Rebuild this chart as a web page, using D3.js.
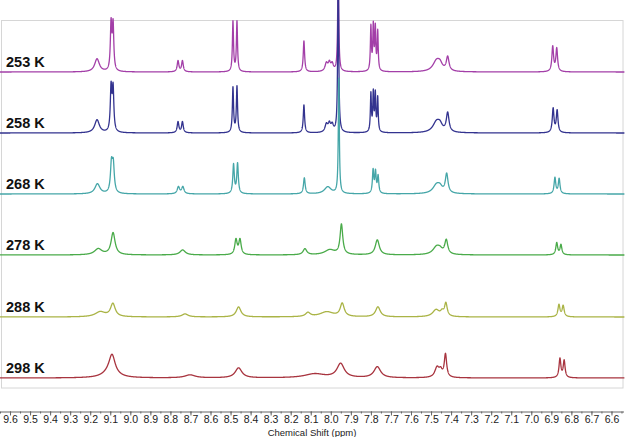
<!DOCTYPE html>
<html>
<head>
<meta charset="utf-8">
<script src="https://cdn.jsdelivr.net/npm/d3@7"></script>
<style>
  body { margin: 0; background: #fff; }
  svg { display: block; }
</style>
</head>
<body>
<svg id="chart" width="625" height="437"></svg>
<script>
// temperatures, top to bottom
var temps = ["253 K", "258 K", "268 K", "278 K", "288 K", "298 K"];
// vertical offset of each trace (intensity units)
var offsets = [306, 245, 184, 123, 61, 0];
var colors = ["#a33fa8", "#33338f", "#45a6a8", "#4aab4a", "#aab446", "#a8343f"];

// peaks: [ppm, height, half width (ppm)]
var peaks253 = [
  [9.166, 13, 0.014],
  [9.096, 47, 0.0042], [9.086, 46, 0.0042],
  [8.762, 11, 0.005], [8.740, 11, 0.005],
  [8.488, 50, 0.0033], [8.468, 50, 0.0033],
  [8.134, 31, 0.004],
  [8.022, 8, 0.008], [8.007, 8, 0.007], [7.993, 7, 0.007],
  [7.963, 110, 0.003],
  [7.800, 44, 0.003], [7.788, 44, 0.003], [7.778, 42, 0.003], [7.766, 39, 0.003],
  [7.472, 11, 0.022], [7.455, 5, 0.013], [7.417, 14, 0.008],
  [6.893, 25, 0.005], [6.873, 23, 0.005]
];
var peaks258 = [
  [9.166, 13, 0.014],
  [9.096, 44, 0.0045], [9.086, 43, 0.0045],
  [8.762, 11, 0.005], [8.740, 11, 0.005],
  [8.488, 45, 0.0035], [8.468, 46, 0.0035],
  [8.134, 28, 0.004],
  [8.022, 8, 0.008], [8.007, 8, 0.007], [7.993, 7, 0.007],
  [7.963, 165, 0.003],
  [7.800, 38, 0.003], [7.788, 38, 0.003], [7.778, 37, 0.003], [7.766, 34, 0.003],
  [7.472, 11, 0.022], [7.455, 5, 0.013], [7.417, 19, 0.008],
  [6.891, 24, 0.005], [6.871, 22, 0.005]
];
var peaks268 = [
  [9.164, 10, 0.015],
  [9.094, 28, 0.006], [9.085, 27, 0.006],
  [8.760, 7, 0.007], [8.738, 7, 0.007],
  [8.485, 29, 0.0045], [8.465, 30, 0.0045],
  [8.132, 16, 0.005],
  [8.015, 7, 0.02],
  [7.960, 115, 0.003],
  [7.789, 23, 0.004], [7.777, 21, 0.004], [7.764, 17, 0.004],
  [7.472, 9, 0.022], [7.455, 4, 0.013], [7.422, 19, 0.008],
  [6.882, 16, 0.005], [6.861, 15, 0.005]
];
var peaks278 = [
  [9.160, 6, 0.022],
  [9.086, 22, 0.012],
  [8.739, 5, 0.016],
  [8.473, 15, 0.007], [8.453, 15, 0.007],
  [8.129, 6, 0.011],
  [8.005, 5, 0.03],
  [7.947, 30, 0.008],
  [7.768, 15, 0.012],
  [7.472, 8, 0.022], [7.455, 3, 0.013], [7.424, 14, 0.009],
  [6.873, 12, 0.0055], [6.852, 10, 0.0055]
];
var peaks288 = [
  [9.150, 5, 0.03],
  [9.087, 13, 0.014],
  [8.727, 3, 0.018],
  [8.460, 10, 0.014],
  [8.114, 4, 0.014],
  [8.020, 5, 0.04],
  [7.943, 13, 0.012],
  [7.765, 10, 0.014],
  [7.475, 7, 0.02], [7.445, 4, 0.009], [7.426, 13, 0.008],
  [6.862, 12, 0.006], [6.841, 11, 0.006]
];
var peaks298 = [
  [9.100, 6, 0.04], [9.091, 18, 0.018],
  [8.702, 3, 0.03],
  [8.460, 10, 0.02],
  [8.080, 4, 0.06],
  [7.951, 14, 0.022],
  [7.768, 11, 0.02],
  [7.470, 10, 0.013], [7.452, 6, 0.009], [7.428, 23, 0.007],
  [6.857, 19, 0.0055], [6.836, 17, 0.0055]
];
var spectra = [peaks253, peaks258, peaks268, peaks278, peaks288, peaks298];

var tickLabels = [9.6, 9.5, 9.4, 9.3, 9.2, 9.1, 9.0, 8.9, 8.8, 8.7, 8.6, 8.5, 8.4, 8.3, 8.2, 8.1,
                  8.0, 7.9, 7.8, 7.7, 7.6, 7.5, 7.4, 7.3, 7.2, 7.1, 7.0, 6.9, 6.8, 6.7, 6.6];

var svg = d3.select("#chart");

var x = d3.scaleLinear().domain([9.65, 6.54]).range([0, 623.5]);
var y = d3.scaleLinear().domain([0, 378]).range([378, 0]);

// frame
svg.append("rect")
  .attr("x", 1.5).attr("y", 20.5)
  .attr("width", 621.5).attr("height", 367.5)
  .attr("fill", "none")
  .attr("stroke", "#d6d6d6");

// sample each trace as a sum of lorentzian lines
var grid = d3.range(9.65, 6.535, -0.0005);
function trace(peaks) {
  return grid.map(function(p) {
    var s = 0;
    peaks.forEach(function(k) {
      var u = (p - k[0]) / k[2];
      s += k[1] / (1 + u * u);
    });
    return [p, s];
  });
}

spectra.forEach(function(peaks, i) {
  var line = d3.line()
    .x(function(d) { return x(d[0]); })
    .y(function(d) { return y(d[1] + offsets[i]); });
  svg.append("path")
    .datum(trace(peaks))
    .attr("fill", "none")
    .attr("stroke", colors[i])
    .attr("stroke-width", 1.3)
    .attr("stroke-linejoin", "round")
    .attr("d", line);

  svg.append("text")
    .attr("x", 6)
    .attr("y", y(offsets[i]) - 5)
    .attr("font-family", "Liberation Sans, Arial, sans-serif")
    .attr("font-weight", "bold")
    .attr("font-size", "14.5px")
    .attr("fill", "#111")
    .text(temps[i]);
});

// axis
var axisY = 411.5;
var minor = d3.range(9.65, 6.54, -0.05).map(function(v) { return +v.toFixed(2); });
var gMinor = svg.append("g")
  .attr("transform", "translate(0," + axisY + ")")
  .call(d3.axisBottom(x).tickValues(minor).tickSize(2).tickFormat(""));
gMinor.select(".domain").remove();
gMinor.selectAll("line").attr("stroke", "#666");

var gAxis = svg.append("g")
  .attr("transform", "translate(0," + axisY + ")")
  .call(d3.axisBottom(x).tickValues(tickLabels).tickSize(4).tickSizeOuter(0)
    .tickFormat(d3.format(".1f")));
gAxis.select(".domain").attr("stroke", "#666");
gAxis.selectAll("line").attr("stroke", "#666");
gAxis.selectAll("text")
  .attr("font-family", "Liberation Sans, Arial, sans-serif")
  .attr("font-size", "10.5px")
  .attr("fill", "#222")
  .attr("dy", "0.45em");

svg.append("text")
  .attr("x", 312)
  .attr("y", 435.5)
  .attr("text-anchor", "middle")
  .attr("font-family", "Liberation Sans, Arial, sans-serif")
  .attr("font-size", "9.5px")
  .attr("fill", "#222")
  .text("Chemical Shift (ppm)");
</script>
</body>
</html>
